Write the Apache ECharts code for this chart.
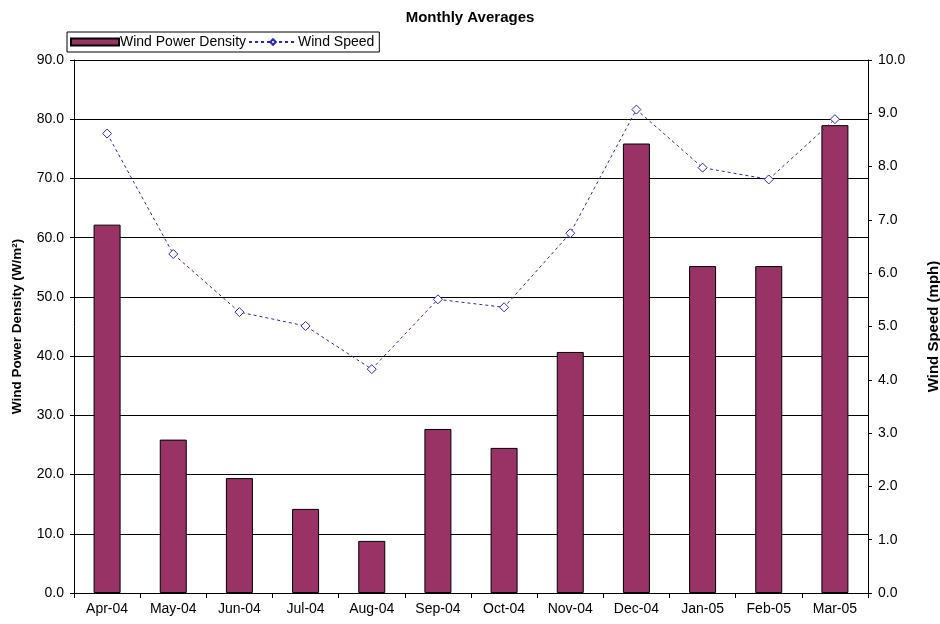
<!DOCTYPE html>
<html>
<head>
<meta charset="utf-8">
<script src="https://cdn.jsdelivr.net/npm/echarts@6/dist/echarts.min.js"></script>
<style>
  html, body { margin: 0; padding: 0; background: #fff; }
  #chart { width: 940px; height: 624px; }
</style>
</head>
<body>
<div id="chart"></div>
<script>
const months = ['Apr-04', 'May-04', 'Jun-04', 'Jul-04', 'Aug-04', 'Sep-04',
  'Oct-04', 'Nov-04', 'Dec-04', 'Jan-05', 'Feb-05', 'Mar-05']
const powerDensity = [62.2, 25.9, 19.4, 14.2, 8.8, 27.7, 24.5, 40.7, 75.9, 55.2, 55.2, 79.0]
const windSpeed = [8.62, 6.36, 5.27, 5.01, 4.20, 5.51, 5.36, 6.75, 9.07, 7.98, 7.76, 8.89]

const FONT = "'Liberation Sans', Arial, sans-serif"
const BAR_COLOR = '#993366'
const LINE_COLOR = '#2a2aa8'

const axisText = { color: '#000', fontFamily: FONT, fontSize: 14 }

const chart = echarts.init(document.getElementById('chart'))

chart.setOption({
  animation: false,
  title: {
    text: 'Monthly Averages',
    left: 'center',
    top: 5,
    textStyle: { color: '#000', fontFamily: FONT, fontSize: 15, fontWeight: 'bold' }
  },
  legend: {
    left: 67,
    top: 32,
    padding: [3, 5, 3, 3],
    itemGap: 2,
    itemWidth: 48,
    itemHeight: 7,
    borderColor: '#000',
    borderWidth: 1,
    backgroundColor: '#fff',
    textStyle: { color: '#000', fontFamily: FONT, fontSize: 14, padding: [0, 0, 0, -4] },
    data: [
      { name: 'Wind Power Density', icon: 'rect' },
      { name: 'Wind Speed' }
    ]
  },
  grid: {
    left: 74,
    right: 72,
    top: 60,
    bottom: 31,
    outerBoundsMode: 'none'
  },
  xAxis: {
    type: 'category',
    data: months,
    axisLine: { lineStyle: { color: '#000', width: 1 } },
    axisTick: { show: true, length: 5, lineStyle: { color: '#000' } },
    axisLabel: { ...axisText, margin: 9 },
    splitLine: { show: false }
  },
  yAxis: [
    {
      type: 'value',
      min: 0,
      max: 90,
      interval: 10,
      name: 'Wind Power Density (W/m²)',
      nameLocation: 'middle',
      nameGap: 50,
      nameTextStyle: { color: '#000', fontFamily: FONT, fontSize: 13.5, fontWeight: 'bold' },
      axisLine: { show: true, lineStyle: { color: '#000' } },
      axisTick: { show: true, length: 4, lineStyle: { color: '#000' } },
      axisLabel: { ...axisText, margin: 10, formatter: (v) => v.toFixed(1) },
      splitLine: { show: true, lineStyle: { color: '#000', width: 1 } }
    },
    {
      type: 'value',
      min: 0,
      max: 10,
      interval: 1,
      name: 'Wind Speed (mph)',
      nameLocation: 'middle',
      nameGap: 58,
      nameTextStyle: { color: '#000', fontFamily: FONT, fontSize: 15, fontWeight: 'bold' },
      axisLine: { show: true, lineStyle: { color: '#000' } },
      axisTick: { show: true, length: 4, lineStyle: { color: '#000' } },
      axisLabel: { ...axisText, margin: 10, formatter: (v) => v.toFixed(1) },
      splitLine: { show: false }
    }
  ],
  series: [
    {
      name: 'Wind Power Density',
      type: 'bar',
      yAxisIndex: 0,
      barWidth: 27,
      itemStyle: { color: BAR_COLOR, borderColor: '#000', borderWidth: 1 },
      data: powerDensity
    },
    {
      name: 'Wind Speed',
      type: 'line',
      yAxisIndex: 1,
      symbol: 'diamond',
      symbolSize: 9,
      showAllSymbol: true,
      itemStyle: { color: '#fff', borderColor: LINE_COLOR, borderWidth: 1 },
      lineStyle: { color: LINE_COLOR, width: 1, type: [3, 3] },
      data: windSpeed
    }
  ]
})
</script>
</body>
</html>
